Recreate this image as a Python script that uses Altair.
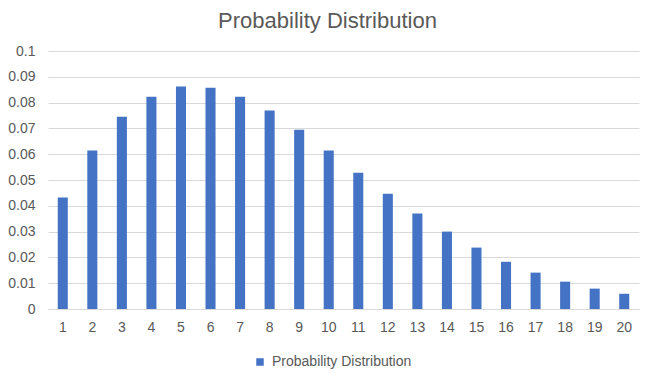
import altair as alt
import pandas as pd

outcomes = list(range(1, 21))
probabilities = [0.0432, 0.0614, 0.0745, 0.0823, 0.0862, 0.0858, 0.0823, 0.0769,
                 0.0695, 0.0614, 0.0528, 0.0447, 0.0370, 0.0300, 0.0238, 0.0183,
                 0.0141, 0.0106, 0.0079, 0.0059]
series_name = "Probability Distribution"

df = pd.DataFrame({"x": outcomes, "p": probabilities, "series": series_name})

FONT = "Liberation Sans"
TXT = "#595959"

chart = alt.Chart(df).mark_bar(color="#4472C4").encode(
    x=alt.X("x:O", title=None,
            scale=alt.Scale(paddingInner=0.66, paddingOuter=0.33),
            axis=alt.Axis(labelAngle=0, ticks=False, domain=False, labelPadding=11,
                          labelFontSize=14, labelColor=TXT, labelFont=FONT, grid=False)),
    y=alt.Y("p:Q", title=None,
            scale=alt.Scale(domain=[0, 0.1], nice=False),
            axis=alt.Axis(values=[0, 0.01, 0.02, 0.03, 0.04, 0.05, 0.06, 0.07, 0.08, 0.09, 0.1],
                          format="~g", ticks=False, domain=False, labelPadding=13,
                          labelFontSize=14, labelColor=TXT, labelFont=FONT,
                          gridColor="#D9D9D9", gridWidth=1)),
    color=alt.Color("series:N", scale=alt.Scale(range=["#4472C4"]),
                    legend=alt.Legend(title=None, orient="none", legendX=205, legendY=304,
                                      symbolType="square", symbolSize=56, labelOffset=5,
                                      labelFontSize=14, labelColor=TXT, labelFont=FONT)),
).properties(
    width=591, height=258,
    title=alt.TitleParams(series_name, fontSize=22, font=FONT, color=TXT, fontWeight="normal",
                          anchor="middle", dx=-16, offset=11),
    autosize="none",
    padding={"left": 40, "top": 43, "right": 8, "bottom": 60},
).configure_view(stroke=None)

chart.save("out.html", embed_options={"renderer": "svg", "actions": False})
